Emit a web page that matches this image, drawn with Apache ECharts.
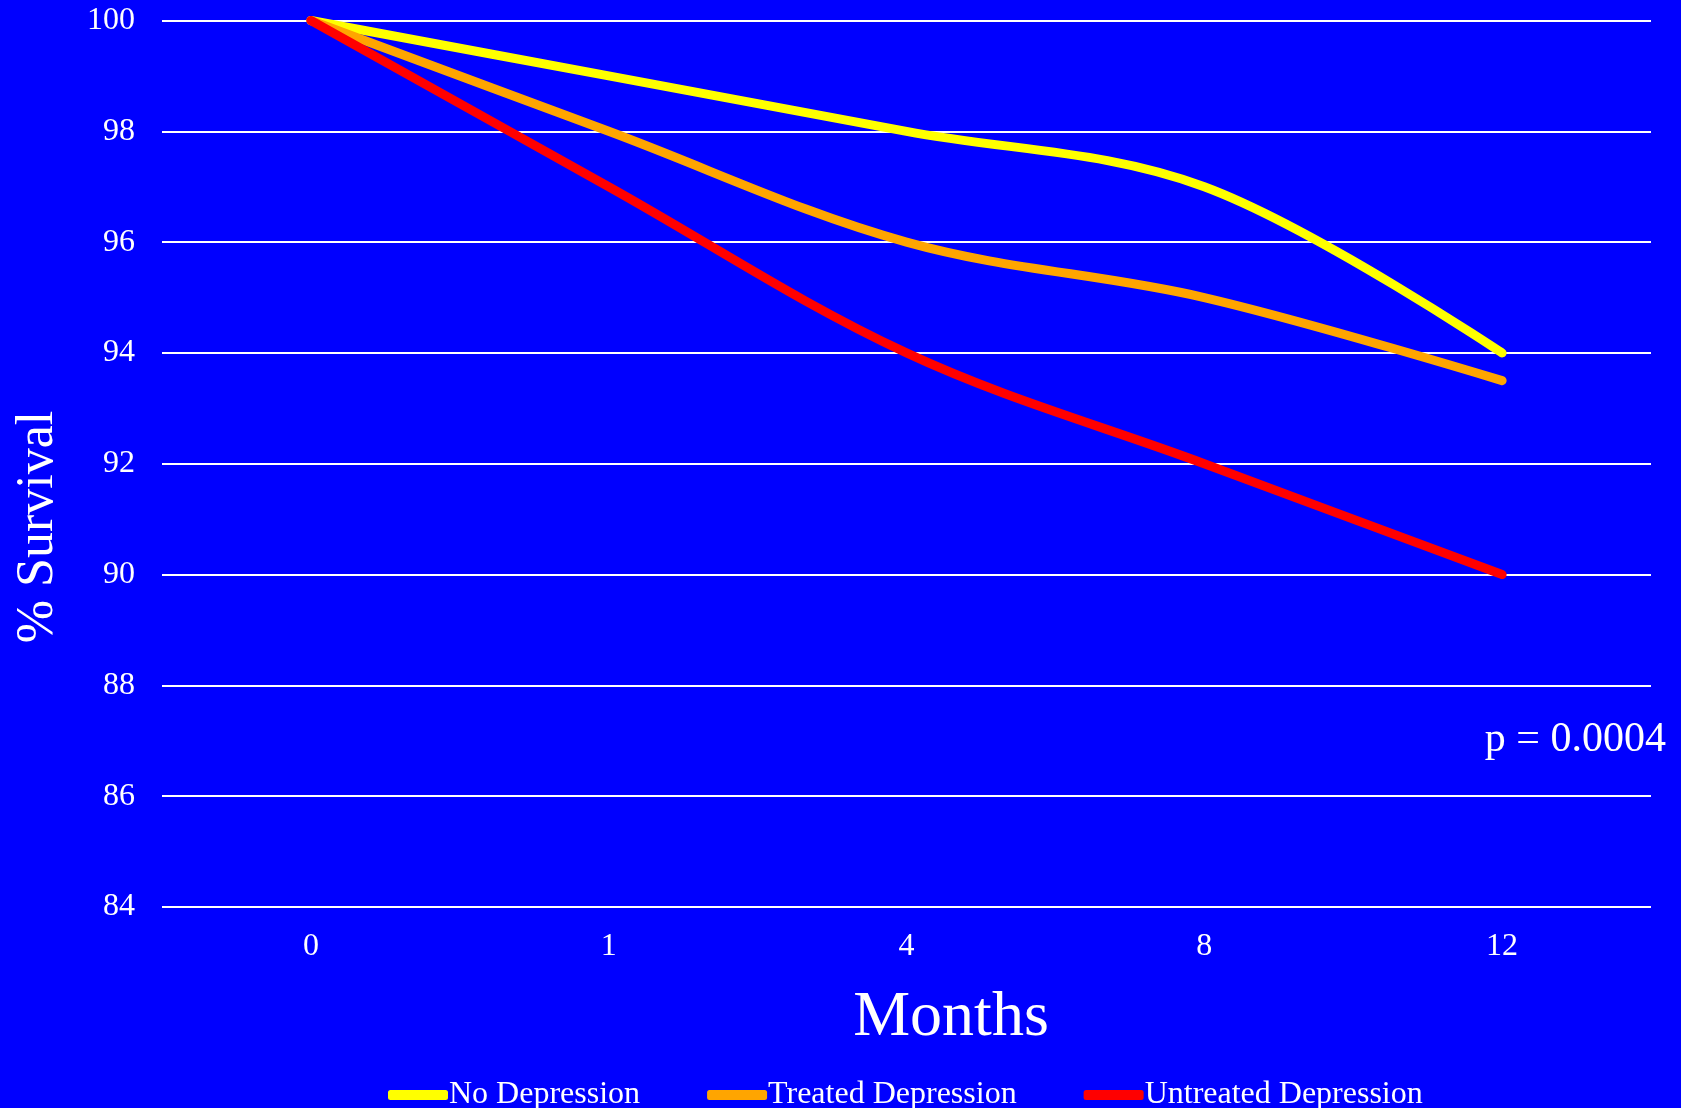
<!DOCTYPE html>
<html>
<head>
<meta charset="utf-8">
<style>
html,body{margin:0;padding:0;background:#0000FF;}
#chart{width:1681px;height:1108px;}
</style>
<script src="https://cdn.jsdelivr.net/npm/echarts@6/dist/echarts.min.js"></script>
</head>
<body>
<div id="chart"></div>
<script>
const months = ['0', '1', '4', '8', '12'];
const noDepression = [100, 99, 98, 97, 94];
const treatedDepression = [100, 98, 96, 95, 93.5];
const untreatedDepression = [100, 97, 94, 92, 90];
const yTicks = { min: 84, max: 100, interval: 2 };

const FONT = '"Liberation Serif", "Times New Roman", serif';
const chart = echarts.init(document.getElementById('chart'), null, { renderer: 'canvas' });

function mkSeries(name, data, color) {
  return {
    name: name,
    type: 'line',
    data: data,
    smooth: 0.35,
    showSymbol: false,
    symbol: 'none',
    lineStyle: { color: color, width: 9, cap: 'round', join: 'round' },
    itemStyle: { color: color }
  };
}

chart.setOption({
  backgroundColor: '#0000FF',
  animation: false,
  grid: { left: 162, right: 30, top: 20, bottom: 201, containLabel: false },
  xAxis: {
    type: 'category',
    data: months,
    boundaryGap: true,
    axisLine: { show: false },
    axisTick: { show: false },
    axisLabel: { color: '#FFFFFF', fontFamily: FONT, fontSize: 32, margin: 24 },
    splitLine: { show: false }
  },
  yAxis: {
    type: 'value',
    min: yTicks.min,
    max: yTicks.max,
    interval: yTicks.interval,
    axisLine: { show: false },
    axisTick: { show: false },
    axisLabel: { color: '#FFFFFF', fontFamily: FONT, fontSize: 32, margin: 27, lineHeight: 36, padding: [5, 0, 0, 0] },
    splitLine: { show: true, lineStyle: { color: '#FFFFFF', width: 2 } }
  },
  legend: {
    left: 383,
    top: 1074,
    itemWidth: 60,
    itemHeight: 10,
    itemGap: 67,
    icon: 'roundRect',
    textStyle: { color: '#FFFFFF', fontFamily: FONT, fontSize: 32, padding: [0, 0, 0, -4] },
    data: ['No Depression', 'Treated Depression', 'Untreated Depression']
  },
  graphic: [
    {
      type: 'text', x: 951, y: 1018,
      style: { text: 'Months', fill: '#FFFFFF', font: '64px ' + FONT, textAlign: 'center', textVerticalAlign: 'middle' }
    },
    {
      type: 'text', x: 38, y: 527, rotation: Math.PI / 2,
      style: { text: '% Survival', fill: '#FFFFFF', font: '52px ' + FONT, textAlign: 'center', textVerticalAlign: 'middle' }
    },
    {
      type: 'text', x: 1666, y: 740,
      style: { text: 'p = 0.0004', fill: '#FFFFFF', font: '42px ' + FONT, textAlign: 'right', textVerticalAlign: 'middle' }
    }
  ],
  series: [
    mkSeries('No Depression', noDepression, '#FFFF00'),
    mkSeries('Treated Depression', treatedDepression, '#FFA500'),
    mkSeries('Untreated Depression', untreatedDepression, '#FF0000')
  ]
});
</script>
</body>
</html>
